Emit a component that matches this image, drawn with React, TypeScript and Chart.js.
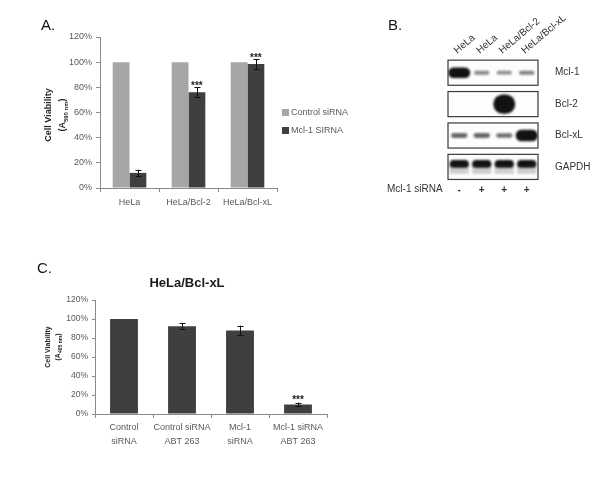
import React, { useEffect, useRef } from 'react';
import { Chart, registerables } from 'chart.js';
Chart.register(...registerables);

const FONT = '"Liberation Sans", Arial, sans-serif';

// ---------- Panel A data ----------
const cellLinesA = ['HeLa', 'HeLa/Bcl-2', 'HeLa/Bcl-xL'];
const seriesNamesA = ['Control siRNA', 'Mcl-1 SIRNA'];
const controlSiRNA = [100, 100, 100];
const controlErr = [0, 0, 0];
const mcl1SiRNA = [12, 76, 98.5];
const mcl1Err = [2.5, 4, 4];
const mcl1Sig = ['', '***', '***'];

// ---------- Panel C data ----------
const treatmentsC = [
  ['Control', 'siRNA'],
  ['Control siRNA', 'ABT 263'],
  ['Mcl-1', 'siRNA'],
  ['Mcl-1 siRNA', 'ABT 263'],
];
const viabilityC = [100, 92.5, 88, 10];
const viabilityErrC = [0, 3, 5, 2];
const viabilitySigC = ['', '', '', '***'];

// ---------- shared y axis ----------
const yMin = 0;
const yMax = 120;
const yStep = 20;

// ---------- Panel B (western blot) data ----------
const blotLanes = ['HeLa', 'HeLa', 'HeLa/Bcl-2', 'HeLa/Bcl-xL'];
const blotSiRNA = ['-', '+', '+', '+'];
const blotProteins = ['Mcl-1', 'Bcl-2', 'Bcl-xL', 'GAPDH'];
const mcl1Signal = [2.0, 0.35, 0.3, 0.4];
const bcl2Signal = [0, 0, 4.2, 0];
const bclxlSignal = [0.6, 0.6, 0.55, 2.3];
const gapdhSignal = [1.3, 1.3, 1.3, 1.3];

const errorBarPlugin = {
  id: 'errorBars',
  afterDatasetsDraw(chart: any, _args: any, opts: any) {
    const ctx = chart.ctx;
    const ys = chart.scales.y;
    chart.data.datasets.forEach((ds: any, di: number) => {
      const meta = chart.getDatasetMeta(di);
      const errs = ds.errors || [];
      const sig = ds.sig || [];
      meta.data.forEach((el: any, i: number) => {
        const v = ds.data[i];
        const e = errs[i] || 0;
        const top = ys.getPixelForValue(v + e);
        if (e > 0) {
          const bot = ys.getPixelForValue(v - e);
          const x = Math.round(el.x) + 0.5;
          ctx.save();
          ctx.strokeStyle = '#111';
          ctx.lineWidth = 1;
          ctx.beginPath();
          ctx.moveTo(x, top);
          ctx.lineTo(x, bot);
          ctx.moveTo(x - 3, Math.round(top) + 0.5);
          ctx.lineTo(x + 3, Math.round(top) + 0.5);
          ctx.moveTo(x - 3, Math.round(bot) + 0.5);
          ctx.lineTo(x + 3, Math.round(bot) + 0.5);
          ctx.stroke();
          ctx.restore();
        }
        if (sig[i]) {
          ctx.save();
          ctx.fillStyle = '#222';
          ctx.font = `bold ${opts.sigSize || 10}px ${FONT}`;
          ctx.textAlign = 'center';
          ctx.textBaseline = 'alphabetic';
          ctx.fillText(sig[i], el.x, top + (opts.sigOffset || 0));
          ctx.restore();
        }
      });
    });
  },
};

const blotPlugin = {
  id: 'blot',
  afterDatasetsDraw(chart: any) {
    const { ctx, chartArea: ca, scales } = chart;
    const xs = scales.x;
    const ys = scales.y;
    const rowH = Math.abs(ys.getPixelForValue(1) - ys.getPixelForValue(0));
    const laneW = Math.abs(xs.getPixelForValue(1) - xs.getPixelForValue(0));
    const boxH = rowH * 0.8;
    chart.data.datasets.forEach((ds: any, r: number) => {
      const meta = chart.getDatasetMeta(r);
      const cy = ys.getPixelForValue(r);
      const top = cy - boxH / 2;
      ctx.save();
      ctx.fillStyle = '#fdfdfd';
      ctx.fillRect(ca.left, top, ca.right - ca.left, boxH);
      ctx.beginPath();
      ctx.rect(ca.left, top, ca.right - ca.left, boxH);
      ctx.clip();
      const isLoading = ds.label === 'GAPDH';
      meta.data.forEach((el: any, i: number) => {
        const s = ds.data[i].s;
        if (!s) return;
        const th = Math.min(boxH - 3, 2.5 + 4 * s);
        const w = Math.min(laneW * 0.98, 14 + 4 * s);
        const alpha = Math.min(1, 0.3 + 0.55 * s);
        const by = isLoading ? el.y - 3 : el.y;
        ctx.filter = 'blur(1px)';
        if (isLoading) {
          ctx.fillStyle = 'rgba(40,40,40,0.22)';
          ctx.fillRect(el.x - w / 2, by, w, 10);
        }
        ctx.fillStyle = `rgba(18,18,18,${alpha})`;
        ctx.beginPath();
        ctx.roundRect(el.x - w / 2, by - th / 2, w, th, th / 2);
        ctx.fill();
      });
      ctx.restore();
      ctx.save();
      ctx.strokeStyle = '#3a3a3a';
      ctx.lineWidth = 1.2;
      ctx.strokeRect(ca.left, top, ca.right - ca.left, boxH);
      ctx.restore();
    });
    // rotated lane labels
    ctx.save();
    ctx.fillStyle = '#333';
    ctx.font = `10px ${FONT}`;
    ctx.textAlign = 'left';
    ctx.textBaseline = 'alphabetic';
    blotLanes.forEach((lab, i) => {
      const px = xs.getPixelForValue(i) - 2;
      ctx.save();
      ctx.translate(px, ca.top - 3);
      ctx.rotate(-40 * Math.PI / 180);
      ctx.fillText(lab, 0, 0);
      ctx.restore();
    });
    // row label for siRNA
    ctx.textBaseline = 'middle';
    ctx.fillText('Mcl-1 siRNA', 7, xs.top + 7);
    ctx.restore();
  },
};

const tickFont = { family: FONT, size: 9 };

export default function App() {
  const aRef = useRef<HTMLCanvasElement>(null);
  const bRef = useRef<HTMLCanvasElement>(null);
  const cRef = useRef<HTMLCanvasElement>(null);

  useEffect(() => {
    const chartA = new Chart(aRef.current as HTMLCanvasElement, {
      type: 'bar',
      data: {
        labels: cellLinesA,
        datasets: [
          { label: seriesNamesA[0], data: controlSiRNA, backgroundColor: '#a6a6a6', categoryPercentage: 0.57, barPercentage: 1, errors: controlErr } as any,
          { label: seriesNamesA[1], data: mcl1SiRNA, backgroundColor: '#3f3f3f', categoryPercentage: 0.57, barPercentage: 1, errors: mcl1Err, sig: mcl1Sig } as any,
        ],
      },
      options: {
        responsive: false,
        animation: false,
        devicePixelRatio: 1,
        layout: { padding: { left: 0, top: 37, right: 103, bottom: 0 } },
        plugins: { legend: { display: false }, tooltip: { enabled: false }, errorBars: { sigOffset: 2, sigSize: 10 } } as any,
        scales: {
          x: {
            grid: { display: true, drawOnChartArea: false, drawTicks: true, tickLength: 4, color: '#8a8a8a', offset: true },
            border: { color: '#8a8a8a' },
            ticks: { font: tickFont, color: '#595959', padding: 5, maxRotation: 0, autoSkip: false },
            afterFit: (s: any) => { s.height = 32; },
          },
          y: {
            min: yMin, max: yMax,
            grid: { drawOnChartArea: false, drawTicks: true, tickLength: 4, color: '#8a8a8a' },
            border: { color: '#8a8a8a' },
            ticks: { stepSize: yStep, callback: (v: any) => v + '%', font: tickFont, color: '#595959', padding: 4 },
            afterFit: (s: any) => { s.width = 100; },
          },
        },
      },
      plugins: [errorBarPlugin],
    } as any);

    const blotSignals = [mcl1Signal, bcl2Signal, bclxlSignal, gapdhSignal];
    const chartB = new Chart(bRef.current as HTMLCanvasElement, {
      type: 'scatter',
      data: {
        datasets: blotProteins.map((p, r) => ({
          label: p,
          data: blotSignals[r].map((s, i) => ({ x: i, y: p, s })),
          pointRadius: 0,
          pointHoverRadius: 0,
        })),
      },
      options: {
        responsive: false,
        animation: false,
        devicePixelRatio: 1,
        layout: { padding: { left: 68, top: 57, right: 0, bottom: 0 } },
        plugins: { legend: { display: false }, tooltip: { enabled: false } },
        scales: {
          x: {
            type: 'category',
            labels: blotLanes,
            offset: true,
            grid: { display: false },
            border: { display: false },
            ticks: { callback: (_v: any, i: number) => blotSiRNA[i], font: { family: FONT, size: 10, weight: 'bold' }, color: '#333', padding: -6, maxRotation: 0, autoSkip: false },
            afterFit: (s: any) => { s.height = 17.4; },
          },
          y: {
            type: 'category',
            labels: blotProteins,
            position: 'right',
            offset: true,
            grid: { display: false },
            border: { display: false },
            ticks: { font: { family: FONT, size: 10 }, color: '#333', padding: 9, autoSkip: false },
            afterFit: (s: any) => { s.width = 62; },
          },
        },
      },
      plugins: [blotPlugin],
    } as any);

    const chartC = new Chart(cRef.current as HTMLCanvasElement, {
      type: 'bar',
      data: {
        labels: treatmentsC,
        datasets: [
          { label: 'HeLa/Bcl-xL', data: viabilityC, backgroundColor: '#3f3f3f', categoryPercentage: 1, barPercentage: 0.48, errors: viabilityErrC, sig: viabilitySigC } as any,
        ],
      },
      options: {
        responsive: false,
        animation: false,
        devicePixelRatio: 1,
        layout: { padding: { left: 0, top: 50, right: 53, bottom: 0 } },
        plugins: { legend: { display: false }, tooltip: { enabled: false }, errorBars: { sigOffset: 0, sigSize: 10 } } as any,
        scales: {
          x: {
            grid: { display: true, drawOnChartArea: false, drawTicks: true, tickLength: 4, color: '#8a8a8a', offset: true },
            border: { color: '#8a8a8a' },
            ticks: { font: { family: FONT, size: 9, lineHeight: 1.55 }, color: '#595959', padding: 3, maxRotation: 0, autoSkip: false },
            afterFit: (s: any) => { s.height = 46; },
          },
          y: {
            min: yMin, max: yMax,
            grid: { drawOnChartArea: false, drawTicks: true, tickLength: 3, color: '#8a8a8a' },
            border: { color: '#8a8a8a' },
            ticks: { stepSize: yStep, callback: (v: any) => v + '%', font: { family: FONT, size: 8.5 }, color: '#595959', padding: 4 },
            afterFit: (s: any) => { s.width = 95; },
          },
        },
      },
      plugins: [errorBarPlugin],
    } as any);

    return () => {
      chartA.destroy();
      chartB.destroy();
      chartC.destroy();
    };
  }, []);

  const abs = (l: number, t: number): React.CSSProperties => ({ position: 'absolute', left: l, top: t });
  const panelLabel: React.CSSProperties = { fontFamily: FONT, fontSize: 15, lineHeight: '15px', color: '#111' };
  const sq = (c: string): React.CSSProperties => ({ display: 'inline-block', width: 7, height: 7, background: c, marginRight: 2 });

  return (
    <div style={{ position: 'absolute', left: 0, top: 0, width: 600, height: 480, background: '#fff', overflow: 'hidden', fontFamily: FONT }}>
      <canvas ref={aRef} width={380} height={220} style={{ ...abs(0, 0), width: 380, height: 220 }} />
      <canvas ref={bRef} width={220} height={200} style={{ ...abs(380, 0), width: 220, height: 200 }} />
      <canvas ref={cRef} width={380} height={210} style={{ ...abs(0, 250), width: 380, height: 210 }} />

      <div style={{ ...abs(41, 17), ...panelLabel }}>A.</div>
      <div style={{ ...abs(388, 17), ...panelLabel }}>B.</div>
      <div style={{ ...abs(37, 260), ...panelLabel }}>C.</div>

      {/* Panel A legend */}
      <div style={{ ...abs(282, 103), fontSize: 9, color: '#595959', lineHeight: '18px', whiteSpace: 'nowrap' }}>
        <div style={{ display: 'flex', alignItems: 'center', height: 18 }}><span style={sq('#a6a6a6')} />{seriesNamesA[0]}</div>
        <div style={{ display: 'flex', alignItems: 'center', height: 18 }}><span style={sq('#3f3f3f')} />{seriesNamesA[1]}</div>
      </div>

      {/* Panel A y title */}
      <div style={{ ...abs(55, 115), transform: 'translate(-50%,-50%) rotate(-90deg)', textAlign: 'center', whiteSpace: 'nowrap', fontWeight: 'bold', fontSize: 9, lineHeight: '14px', color: '#262626' }}>
        <div>Cell Viability</div>
        <div>(A<sub style={{ fontSize: 6, lineHeight: 0 }}>590 nm</sub>)</div>
      </div>

      {/* Panel C title */}
      <div style={{ ...abs(187, 282), transform: 'translate(-50%,-50%)', whiteSpace: 'nowrap', fontWeight: 'bold', fontSize: 13, color: '#1a1a1a' }}>HeLa/Bcl-xL</div>

      {/* Panel C y title */}
      <div style={{ ...abs(52.5, 347), transform: 'translate(-50%,-50%) rotate(-90deg)', textAlign: 'center', whiteSpace: 'nowrap', fontWeight: 'bold', fontSize: 7, lineHeight: '10px', color: '#262626' }}>
        <div>Cell Viability</div>
        <div>(A<sub style={{ fontSize: 5, lineHeight: 0 }}>405 nm</sub>)</div>
      </div>
    </div>
  );
}
